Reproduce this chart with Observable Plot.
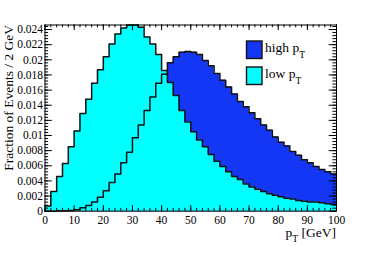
<!DOCTYPE html>
<html><head><meta charset="utf-8">
<script src="https://cdn.jsdelivr.net/npm/d3@7"></script>
<script src="https://cdn.jsdelivr.net/npm/@observablehq/plot@0.6"></script>
<style>
body{margin:0;background:#fff;}
#chart svg{display:block;}
#chart svg text{font-family:"Liberation Serif", serif;}
</style>
</head><body><div id="chart"></div>
<script>
// bin edges (GeV), 2 GeV bins
const binEdges = [0,2,4,6,8,10,12,14,16,18,20,22,24,26,28,30,32,34,36,38,40,42,44,46,48,50,
  52,54,56,58,60,62,64,66,68,70,72,74,76,78,80,82,84,86,88,90,92,94,96,98,100];
// low pT fraction per bin
const lowPt = [0.0007,0.0026,0.0046,0.0063,0.0085,0.0106,0.0129,0.0148,0.0169,0.0187,
  0.0204,0.0221,0.0234,0.0242,0.0246,0.0246,0.0243,0.0230,0.0221,0.0207,
  0.0186,0.0170,0.0153,0.0133,0.0118,0.0105,0.0094,0.0085,0.0075,0.0066,
  0.0059,0.0052,0.0046,0.0042,0.0036,0.0032,0.0029,0.0026,0.0023,0.0021,
  0.0019,0.0017,0.0016,0.0014,0.0013,0.0012,0.0012,0.0011,0.0010,0.0009];
// high pT fraction per bin
const highPt = [0.0000,0.0000,0.00005,0.00007,0.0001,0.0002,0.00045,0.00075,0.0012,0.00185,
  0.0027,0.0038,0.0049,0.0064,0.0078,0.0097,0.0114,0.0133,0.0151,0.0169,
  0.0181,0.0196,0.0204,0.0210,0.0211,0.0210,0.0207,0.0199,0.0192,0.0182,
  0.0173,0.0164,0.0155,0.0145,0.0138,0.0130,0.0122,0.0114,0.0107,0.0098,
  0.0091,0.0086,0.0079,0.0074,0.0068,0.0064,0.0059,0.0055,0.0052,0.0049];
const xTicks = [0,10,20,30,40,50,60,70,80,90,100];
const xTickLabels = ["0","10","20","30","40","50","60","70","80","90","100"];
const yTicks = [0,0.002,0.004,0.006,0.008,0.01,0.012,0.014,0.016,0.018,0.02,0.022,0.024];
const yTickLabels = ["0","0.002","0.004","0.006","0.008","0.01","0.012","0.014","0.016","0.018","0.02","0.022","0.024"];
const seriesNames = ["high", "low"];

const W = 374, H = 253, mL = 44.5, mR = 38, mT = 24.5, mB = 42.3;
const innerH = H - mT - mB, innerW = W - mL - mR;
const blue = "#1437f5", cyan = "#00ffff", lineCol = "#111";
const yMax = 0.0246;
const xMinor = binEdges;
const yMinor = d3.range(0, yMax, 0.0004);
const ff = "Liberation Serif, serif";

const stepData = vals => binEdges.map((e, i) => ({x: e, y: vals[Math.min(i, vals.length - 1)]}));
const hi = stepData(highPt), lo = stepData(lowPt);

const plot = Plot.plot({
  width: W, height: H,
  marginLeft: mL, marginRight: mR, marginTop: mT, marginBottom: mB,
  x: {domain: [0, 100]},
  y: {domain: [0, yMax]},
  style: {fontFamily: ff, background: "white", color: "#000"},
  marks: [
    Plot.areaY(hi, {x: "x", y: "y", curve: "step-after", fill: blue}),
    Plot.areaY(lo, {x: "x", y: "y", curve: "step-after", fill: cyan}),
    Plot.lineY(hi, {x: "x", y: "y", curve: "step-after", stroke: lineCol, strokeWidth: 1.5}),
    Plot.lineY(lo, {x: "x", y: "y", curve: "step-after", stroke: lineCol, strokeWidth: 1.5}),
    Plot.tickX(xMinor, {insetTop: innerH - 2.8, stroke: "#000"}),
    Plot.tickX(xTicks, {insetTop: innerH - 5.6, stroke: "#000"}),
    Plot.tickX(xMinor, {insetBottom: innerH - 2.8, stroke: "#000"}),
    Plot.tickX(xTicks, {insetBottom: innerH - 5.6, stroke: "#000"}),
    Plot.tickY(yMinor, {insetRight: innerW - 3.6, stroke: "#000"}),
    Plot.tickY(yTicks, {insetRight: innerW - 7.3, stroke: "#000"}),
    Plot.tickY(yMinor, {insetLeft: innerW - 3.6, stroke: "#000"}),
    Plot.tickY(yTicks, {insetLeft: innerW - 7.3, stroke: "#000"}),
    Plot.frame({stroke: "#000"}),
    Plot.axisX(xTicks, {tickSize: 0, tickPadding: 4.5, fontSize: 11.5, label: null,
      tickFormat: d => xTickLabels[xTicks.indexOf(d)]}),
    Plot.axisY(yTicks, {tickSize: 0, tickPadding: 2, fontSize: 11.5, label: null,
      tickFormat: d => yTickLabels[yTicks.indexOf(d)]})
  ]
});

const svg = d3.select(plot);
svg.append("text")
  .attr("transform", "translate(13,25) rotate(-90)")
  .attr("text-anchor", "end")
  .attr("font-size", 13.5).attr("fill", "#000")
  .text("Fraction of Events / 2 GeV");
const xl = svg.append("text")
  .attr("x", 336).attr("y", 237).attr("text-anchor", "end")
  .attr("font-size", 13.5).attr("fill", "#000");
xl.append("tspan").text("p");
xl.append("tspan").attr("dy", 4.5).attr("font-size", 9.5).text("T");
xl.append("tspan").attr("dy", -4.5).text(" [GeV]");
const legendRows = [
  {name: seriesNames[0], color: blue, y: 41},
  {name: seriesNames[1], color: cyan, y: 67}
];
legendRows.forEach(r => {
  svg.append("rect").attr("x", 246.5).attr("y", r.y).attr("width", 15.5).attr("height", 17.5)
    .attr("fill", r.color).attr("stroke", lineCol).attr("stroke-width", 1.4);
  const t = svg.append("text").attr("x", 265).attr("y", r.y + 11).attr("text-anchor", "start")
    .attr("font-size", 13.5).attr("fill", "#000");
  t.append("tspan").text(r.name + " p");
  t.append("tspan").attr("dy", 6).attr("font-size", 9.5).text("T");
});
svg.selectAll("text").attr("font-family", ff).style("font-family", ff);

document.getElementById("chart").appendChild(plot);
</script>
</body></html>
